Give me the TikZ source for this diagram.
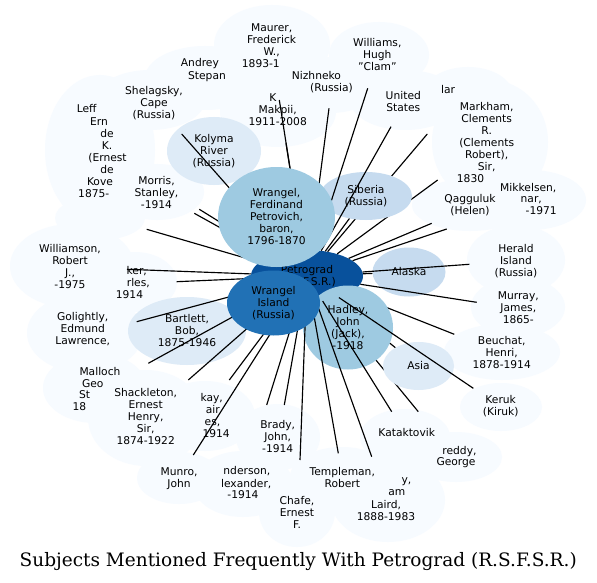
\documentclass[tikz,border=0pt]{standalone}
\usepackage{fontspec}
\setmainfont{DejaVu Sans}
\newfontfamily\titlefont{DejaVu Serif}
\usetikzlibrary{shapes.geometric}
\definecolor{c1}{HTML}{08519C}
\definecolor{c2}{HTML}{2171B5}
\definecolor{c3}{HTML}{9ECAE1}
\definecolor{c4}{HTML}{C6DBEF}
\definecolor{c5}{HTML}{DEEBF7}
\definecolor{c6}{HTML}{F7FBFF}
\begin{document}
\begin{tikzpicture}[x=1pt,y=-1pt,
  every node/.style={inner sep=0pt},
  f/.style={font=\fontsize{10.7}{12}\selectfont},
  lbl/.style={f, align=center},
  fw/.style={f, anchor=west},
  fe/.style={f, anchor=east},
  blob/.style 2 args={ellipse, fill=c6, minimum width=#1pt, minimum height=#2pt},
  cnode/.style n args={3}{ellipse, fill=#1, minimum width=#2pt, minimum height=#3pt, f, align=center},
  conn/.style={line width=1.15pt, black}]
\useasboundingbox (0,0) rectangle (597,583);
\fill[white] (0,0) rectangle (597,583);

% edge end points
\coordinate (e_lar) at (427.3,134);
\coordinate (e_markham) at (437.7,180);
\coordinate (e_si) at (349.5,218.4);
\coordinate (e_al) at (372.5,273.4);
\coordinate (e_as) at (395.4,347.7);
\coordinate (e_beuchat) at (454.3,334.3);
\coordinate (e_breddy) at (418.3,411.7);
\coordinate (e_williams) at (367.7,88.3);
\coordinate (e_us) at (391,126.7);
\coordinate (e_qag) at (431.7,223.3);
\coordinate (e_mik) at (446.7,229);
\coordinate (e_herald) at (469.3,264.3);
\coordinate (e_murray) at (476.7,302.3);
\coordinate (e_keruk) at (473.3,388.3);
\coordinate (e_katak) at (391.7,411.7);
\coordinate (e_mckinlay) at (371.7,456.7);
\coordinate (e_templeman) at (338.3,453.3);
\coordinate (e_chafe) at (300,460);
\coordinate (e_brady) at (284.3,405);
\coordinate (e_anderson) at (266.7,405);
\coordinate (e_munro) at (193.3,455);
\coordinate (e_mackay) at (229.3,380);
\coordinate (e_shackleton) at (188.3,380);
\coordinate (e_malloch) at (148.3,363.3);
\coordinate (e_golightly) at (136.7,321.7);
\coordinate (e_barker) at (176.7,281.7);
\coordinate (e_williamson) at (127,269.3);
\coordinate (e_wnode) at (146.7,229.3);
\coordinate (e_morris) at (194.3,213.3);
\coordinate (e_leff) at (199.3,209.3);
\coordinate (e_shelagsky) at (181.7,134);
\coordinate (e_maurer) at (279.3,100);
\coordinate (e_makpii) at (286,143.3);
\coordinate (e_nizh) at (329,108.3);

% light background blobs
\node[blob={116}{80}] (b_maurer) at (272,45) {};
\node[blob={100}{66}] (b_williams) at (379,55) {};
\node[blob={100}{56}] (b_nizh) at (330,85) {};
\node[blob={120}{64}] (b_andreyev) at (205,78) {};
\node[blob={116}{70}] (b_makpii) at (278,112) {};
\node[blob={110}{60}] (b_shelagsky) at (150,100) {};
\node[blob={110}{150}] (b_leff) at (100,150) {};
\node[blob={110}{60}] (b_us) at (405,100) {};
\node[blob={90}{56}] (b_lar) at (468,95) {};
\node[blob={116}{124}] (b_markham) at (490,142) {};
\node[blob={94}{56}] (b_morris) at (157,192) {};
\node[blob={90}{44}] (b_wnode) at (100,218) {};
\node[blob={116}{52}] (b_qag) at (470,205) {};
\node[blob={112}{60}] (b_mik) at (530,200) {};
\node[blob={124}{84}] (b_williamson) at (72,266) {};
\node[blob={84}{60}] (b_barker) at (135,282) {};
\node[blob={98}{70}] (b_herald) at (516,260) {};
\node[blob={94}{60}] (b_murray) at (518,307) {};
\node[blob={116}{56}] (b_beuchat) at (502,352) {};
\node[blob={116}{80}] (b_golightly) at (85,333) {};
\node[blob={104}{70}] (b_malloch) at (95,388) {};
\node[blob={116}{96}] (b_shackleton) at (146,418) {};
\node[blob={100}{70}] (b_mackay) at (205,416) {};
\node[blob={84}{66}] (b_brady) at (278,437) {};
\node[blob={84}{52}] (b_munro) at (179,478) {};
\node[blob={100}{66}] (b_anderson) at (243,484) {};
\node[blob={76}{70}] (b_chafe) at (297,512) {};
\node[blob={104}{60}] (b_templeman) at (342,477) {};
\node[blob={114}{84}] (b_mckinlay) at (388,500) {};
\node[blob={90}{56}] (b_katak) at (405,437) {};
\node[blob={92}{50}] (b_breddy) at (456,457) {};
\node[blob={82}{48}] (b_keruk) at (501,407) {};

% texts of the light nodes
\node[lbl] (t_maurer) at (271.7,40) {Maurer,\\Frederick\\W.,};
\node[fw] (t_maurer2) at (241.7,63.5) {1893-1};
\node[fw] (t_andrey) at (180.7,64) {Andrey};
\node[f] (t_stepan) at (207,76.3) {Stepan};
\node[lbl] (t_shelagsky) at (154,103.5) {Shelagsky,\\Cape\\(Russia)};
\node[fw] (t_leff1) at (76.6,109) {Leff};
\node[fw] (t_leff2) at (90,121.7) {Ern};
\node[f] (t_leff3) at (107,133.3) {de};
\node[f] (t_leff4) at (107,145.7) {K.};
\node[f] (t_leff5) at (107.5,157.8) {(Ernest};
\node[f] (t_leff6) at (107,169.3) {de};
\node[fw] (t_leff7) at (86.8,181.7) {Kove};
\node[fw] (t_leff8) at (78,193.3) {1875-};
\node[lbl] (t_morris) at (156.5,192.8) {Morris,\\Stanley,\\-1914};
\node[f] (t_mk0) at (273,97.5) {K};
\node[lbl] (t_makpii) at (277.7,115.3) {Makpii,\\1911-2008};
\node[fw] (t_nizh1) at (291.7,76) {Nizhneko};
\node[f] (t_nizh2) at (331.5,88.6) {(Russia)};
\node[lbl] (t_williams) at (377.3,54.8) {Williams,\\Hugh\\\symbol{34}Clam\symbol{34}};
\node[lbl] (t_us) at (403.3,101.5) {United\\States};
\node[fw] (t_lar) at (441,89.3) {lar};
\node[lbl] (t_markham) at (486.7,137.2) {Markham,\\Clements\\R.\\(Clements\\Robert),\\Sir,};
\node[fw] (t_markham2) at (456.7,178.3) {1830};
\node[f] (t_mik1) at (528.3,187.8) {Mikkelsen,};
\node[fe] (t_mik2) at (542,199.8) {nar,};
\node[fe] (t_mik3) at (557,211) {-1971};
\node[lbl] (t_qag) at (470,205.6) {Qagguluk\\(Helen)};
\node[lbl] (t_herald) at (516,260.7) {Herald\\Island\\(Russia)};
\node[lbl] (t_murray) at (518.3,308) {Murray,\\James,\\1865-};
\node[lbl] (t_beuchat) at (501.7,352.3) {Beuchat,\\Henri,\\1878-1914};
\node[lbl] (t_keruk) at (500.7,406) {Keruk\\(Kiruk)};
\node[f] (t_katak) at (406.7,433) {Kataktovik};
\node[fe] (t_breddy1) at (476.7,451.2) {reddy,};
\node[f] (t_breddy2) at (456,462.9) {George};
\node[fe] (t_mck1) at (411.5,481.2) {y,};
\node[fe] (t_mck2) at (405.5,492.9) {am};
\node[lbl] (t_mck3) at (386,510.7) {Laird,\\1888-1983};
\node[lbl] (t_templeman) at (342.3,477.7) {Templeman,\\Robert};
\node[lbl] (t_chafe) at (297,512.6) {Chafe,\\Ernest\\F.};
\node[lbl] (t_brady) at (277.7,436.8) {Brady,\\John,\\-1914};
\node[fe] (t_and1) at (270.5,471.2) {nderson,};
\node[fe] (t_and2) at (271.5,483.8) {lexander,};
\node[f] (t_and3) at (243,495) {-1914};
\node[lbl] (t_munro) at (179,478.7) {Munro,\\John};
\node[fe] (t_mackay1) at (223,398.8) {kay,};
\node[fe] (t_mackay2) at (220,410) {air};
\node[fe] (t_mackay3) at (220.5,423.2) {es,};
\node[fe] (t_mackay4) at (230,434) {1914};
\node[lbl] (t_shackleton) at (145.7,416.6) {Shackleton,\\Ernest\\Henry,\\Sir,\\1874-1922};
\node[fw] (t_malloch1) at (79.3,371.7) {Malloch};
\node[fw] (t_malloch2) at (81.9,383.3) {Geo};
\node[fw] (t_malloch3) at (79,395) {St};
\node[fw] (t_malloch4) at (72.4,406.7) {18};
\node[lbl] (t_golightly) at (82.7,329.5) {Golightly,\\Edmund\\Lawrence,};
\node[fe] (t_barker1) at (147,271.2) {ker,};
\node[fe] (t_barker2) at (150,282.8) {rles,};
\node[fe] (t_barker3) at (143.3,294.3) {1914};
\node[lbl] (t_williamson) at (70,267) {Williamson,\\Robert\\J.,\\-1975};

% central node
\node[cnode={c1}{112}{52}] (pg) at (307,276) {Petrograd\\(R.S.F.S.R.)};

% connectors hidden by the coloured nodes
\draw[conn] (pg) -- (e_lar);
\draw[conn] (pg) -- (e_markham);
\draw[conn] (pg) -- (e_si);
\draw[conn] (pg) -- (e_al);
\draw[conn] (pg) -- (e_as);
\draw[conn] (pg) -- (e_beuchat);
\draw[conn] (pg) -- (e_breddy);

% coloured nodes
\node[cnode={c5}{94}{68}] (ko) at (214,151) {Kolyma\\River\\(Russia)};
\node[cnode={c4}{92}{48}] (si) at (366,196) {Siberia\\(Russia)};
\node[cnode={c4}{73}{49}] (al) at (409,272) {Alaska};
\node[cnode={c5}{118}{68}] (ba) at (187,331) {Bartlett,\\Bob,\\1875-1946};
\node[cnode={c3}{90}{84}] (ha) at (348,327.5) {Hadley,\\John\\(Jack),\\-1918};
\node[cnode={c5}{71}{48}] (as) at (418.5,366) {Asia};

% connectors on top
\foreach \e in {williams,us,qag,mik,herald,murray,keruk,katak,mckinlay,templeman,chafe,brady,anderson,munro,mackay,shackleton,malloch,golightly,barker,williamson,wnode,morris,leff,shelagsky,maurer,makpii,nizh}
  \draw[conn] (pg) -- (e_\e);

% large coloured nodes
\node[cnode={c3}{117}{100}] (wf) at (276.5,217) {Wrangel,\\Ferdinand\\Petrovich,\\baron,\\1796-1870};
\node[cnode={c2}{93}{65}] (wi) at (273.5,303) {Wrangel\\Island\\(Russia)};

\node[anchor=base, font=\titlefont\fontsize{18.5}{22}\selectfont] (title) at (298.2,566.5) {Subjects Mentioned Frequently With Petrograd (R.S.F.S.R.)};
\end{tikzpicture}
\end{document}
